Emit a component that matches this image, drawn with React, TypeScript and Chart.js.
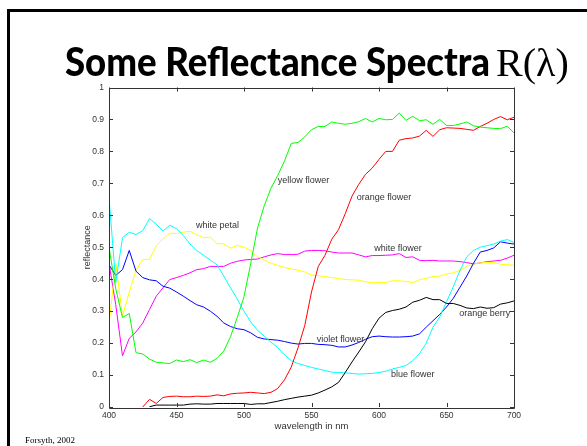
import React, { useEffect, useRef } from "react";
import { Chart, registerables } from "chart.js";

Chart.register(...registerables);

const wavelengths = [
  400, 405, 410, 415, 420, 425, 430, 435, 440, 445, 450, 455, 460, 465, 470, 475, 480, 485, 490, 495,
  500, 505, 510, 515, 520, 525, 530, 535, 540, 545, 550, 555, 560, 565, 570, 575, 580, 585, 590, 595,
  600, 605, 610, 615, 620, 625, 630, 635, 640, 645, 650, 655, 660, 665, 670, 675, 680, 685, 690, 695, 700,
];

const yellowFlower = [
  0.5, 0.37, 0.28, 0.293, 0.17, 0.166, 0.15, 0.14, 0.138, 0.136, 0.147, 0.142, 0.148, 0.139, 0.147, 0.14, 0.152, 0.175, 0.22, 0.28,
  0.345, 0.45, 0.56, 0.63, 0.685, 0.725, 0.77, 0.825, 0.828, 0.845, 0.868, 0.878, 0.878, 0.892, 0.888, 0.885, 0.888, 0.893, 0.903, 0.892,
  0.903, 0.899, 0.9, 0.92, 0.897, 0.91, 0.896, 0.899, 0.885, 0.9, 0.881, 0.881, 0.886, 0.892, 0.88, 0.876, 0.874, 0.872, 0.871, 0.879, 0.858,
];

const orangeFlower = [
  null, null, null, null, null, 0.0, 0.024, 0.011, 0.03, 0.033, 0.034, 0.032, 0.032, 0.034, 0.033, 0.034, 0.038, 0.035, 0.041, 0.043,
  0.044, 0.046, 0.044, 0.042, 0.046, 0.058, 0.085, 0.125, 0.185, 0.255, 0.36, 0.44, 0.475, 0.525, 0.555, 0.605, 0.66, 0.697, 0.728, 0.748,
  0.775, 0.8, 0.8, 0.835, 0.84, 0.842, 0.848, 0.866, 0.847, 0.868, 0.874, 0.873, 0.872, 0.869, 0.866, 0.878, 0.888, 0.9, 0.909, 0.899, 0.907,
];

const orangeBerry = [
  null, null, null, null, null, null, 0.001, 0.006, 0.006, 0.006, 0.006, 0.006, 0.009, 0.01, 0.009, 0.009, 0.011, 0.011, 0.011, 0.011,
  0.011, 0.008, 0.01, 0.01, 0.014, 0.018, 0.023, 0.027, 0.031, 0.034, 0.037, 0.044, 0.053, 0.063, 0.077, 0.108, 0.141, 0.172, 0.204, 0.245,
  0.278, 0.296, 0.302, 0.306, 0.313, 0.328, 0.334, 0.343, 0.336, 0.336, 0.324, 0.324, 0.318, 0.31, 0.308, 0.313, 0.309, 0.311, 0.322, 0.326, 0.332,
];

const blueFlower = [
  0.655, 0.39, 0.53, 0.547, 0.54, 0.552, 0.59, 0.572, 0.551, 0.569, 0.558, 0.537, 0.51, 0.49, 0.475, 0.46, 0.445, 0.41, 0.373, 0.338,
  0.3, 0.266, 0.24, 0.222, 0.203, 0.186, 0.163, 0.145, 0.136, 0.13, 0.124, 0.119, 0.114, 0.109, 0.108, 0.107, 0.105, 0.103, 0.104, 0.105,
  0.108, 0.112, 0.119, 0.124, 0.13, 0.145, 0.167, 0.2, 0.25, 0.282, 0.329, 0.376, 0.428, 0.47, 0.49, 0.5, 0.505, 0.51, 0.519, 0.524, 0.515,
];

const violetFlower = [
  0.445, 0.412, 0.43, 0.49, 0.425, 0.405, 0.398, 0.395, 0.378, 0.372, 0.36, 0.347, 0.333, 0.32, 0.313, 0.3, 0.284, 0.263, 0.252, 0.245,
  0.242, 0.232, 0.218, 0.213, 0.211, 0.209, 0.205, 0.2, 0.197, 0.199, 0.199, 0.196, 0.195, 0.193, 0.188, 0.188, 0.194, 0.202, 0.212, 0.22,
  0.222, 0.22, 0.219, 0.219, 0.22, 0.222, 0.229, 0.25, 0.27, 0.29, 0.313, 0.34, 0.375, 0.41, 0.45, 0.485, 0.49, 0.498, 0.517, 0.513, 0.51,
];

const whitePetal = [
  0.26, 0.45, 0.285, 0.36, 0.428, 0.462, 0.462, 0.505, 0.526, 0.544, 0.543, 0.547, 0.55, 0.539, 0.53, 0.532, 0.511, 0.511, 0.497, 0.506,
  0.5, 0.49, 0.47, 0.46, 0.45, 0.443, 0.437, 0.432, 0.428, 0.423, 0.413, 0.411, 0.408, 0.405, 0.402, 0.399, 0.398, 0.397, 0.392, 0.389,
  0.389, 0.39, 0.395, 0.395, 0.393, 0.389, 0.398, 0.403, 0.408, 0.41, 0.416, 0.42, 0.428, 0.44, 0.447, 0.451, 0.453, 0.452, 0.447, 0.445, 0.444,
];

const whiteFlower = [
  0.45, 0.32, 0.16, 0.215, 0.235, 0.263, 0.305, 0.347, 0.373, 0.399, 0.405, 0.412, 0.42, 0.43, 0.433, 0.44, 0.44, 0.44, 0.45, 0.456,
  0.46, 0.462, 0.463, 0.47, 0.476, 0.48, 0.477, 0.477, 0.478, 0.488, 0.49, 0.49, 0.489, 0.485, 0.482, 0.482, 0.482, 0.476, 0.47, 0.474,
  0.474, 0.475, 0.476, 0.48, 0.468, 0.47, 0.459, 0.458, 0.459, 0.457, 0.457, 0.457, 0.455, 0.452, 0.448, 0.451, 0.455, 0.457, 0.459, 0.466, 0.475,
];

const seriesNames = ["yellow flower", "orange flower", "orange berry", "blue flower", "violet flower", "white petal", "white flower"];
const seriesValues = [yellowFlower, orangeFlower, orangeBerry, blueFlower, violetFlower, whitePetal, whiteFlower];
const seriesColors = ["#00ff00", "#ff0000", "#000000", "#00ffff", "#0000ff", "#ffff00", "#ff00ff"];

const annotLabels = ["yellow flower", "orange flower", "white flower", "white petal", "violet flower", "blue flower", "orange berry"];
const annotWl = [525, 583.5, 596.5, 464.4, 553.8, 608.9, 659.5];
const annotR = [0.709, 0.657, 0.496, 0.567, 0.2125, 0.102, 0.293];

const xTicks = [400, 450, 500, 550, 600, 650, 700];
const yTicks = [0, 0.1, 0.2, 0.3, 0.4, 0.5, 0.6, 0.7, 0.8, 0.9, 1];
const yTickLabels = ["0", "0.1", "0.2", "0.3", "0.4", "0.5", "0.6", "0.7", "0.8", "0.9", "1"];

const slidePlugin = {
  id: "slide",
  beforeDraw(chart: any) {
    const ctx = chart.ctx;
    ctx.save();
    ctx.fillStyle = "#000";
    ctx.fillRect(7, 9, 600, 3);
    ctx.fillRect(7, 9, 3, 460);
    ctx.restore();
  },
  afterDatasetsDraw(chart: any) {
    const ctx = chart.ctx;
    const { left, right, top, bottom } = chart.chartArea;
    const xs = chart.scales.x;
    const ys = chart.scales.y;
    ctx.save();
    ctx.strokeStyle = "#333";
    ctx.lineWidth = 1;
    ctx.beginPath();
    ctx.rect(Math.round(left) + 0.5, Math.round(top) + 0.5, Math.round(right - left), Math.round(bottom - top));
    ctx.stroke();
    ctx.beginPath();
    xs.ticks.forEach((t: any) => {
      const px = Math.round(xs.getPixelForValue(t.value)) + 0.5;
      ctx.moveTo(px, bottom);
      ctx.lineTo(px, bottom - 4);
      ctx.moveTo(px, top);
      ctx.lineTo(px, top + 4);
    });
    ys.ticks.forEach((t: any) => {
      const py = Math.round(ys.getPixelForValue(t.value)) + 0.5;
      ctx.moveTo(left, py);
      ctx.lineTo(left + 4, py);
      ctx.moveTo(right, py);
      ctx.lineTo(right - 4, py);
    });
    ctx.stroke();

    ctx.fillStyle = "#333";
    ctx.font = '9px "Liberation Sans", Arial, sans-serif';
    ctx.textAlign = "left";
    ctx.textBaseline = "middle";
    annotLabels.forEach((lab, i) => {
      ctx.fillText(lab, xs.getPixelForValue(annotWl[i]), ys.getPixelForValue(annotR[i]));
    });
    ctx.restore();
  },
  afterDraw(chart: any) {
    const ctx = chart.ctx;
    ctx.save();
    ctx.fillStyle = "#000";
    ctx.textBaseline = "alphabetic";
    ctx.textAlign = "left";
    const main = "Some Reflectance Spectra";
    ctx.font = '900 40px Lato, "DejaVu Sans", sans-serif';
    const w = ctx.measureText(main).width;
    const sx = 425 / w;
    ctx.translate(65, 76);
    ctx.scale(sx, 1);
    ctx.fillText(main, 0, 0);
    ctx.restore();

    ctx.save();
    ctx.fillStyle = "#000";
    ctx.textBaseline = "alphabetic";
    ctx.textAlign = "left";
    ctx.font = '40px "Liberation Serif", "Times New Roman", serif';
    ctx.fillText("R(\u03bb)", 496, 76);
    ctx.font = '9px "Liberation Serif", "Times New Roman", serif';
    ctx.fillText("Forsyth, 2002", 25, 443);
    ctx.restore();
  },
};

export default function App() {
  const canvasRef = useRef<HTMLCanvasElement | null>(null);

  useEffect(() => {
    const canvas = canvasRef.current;
    if (!canvas) return;
    const datasets = seriesValues.map((vals, i) => ({
      label: seriesNames[i],
      data: wavelengths.map((wl, j) => ({ x: wl, y: vals[j] })),
      borderColor: seriesColors[i],
      backgroundColor: seriesColors[i],
      borderWidth: 1,
      pointRadius: 0,
      tension: 0,
      fill: false,
    }));
    const chart = new Chart(canvas, {
      type: "line",
      data: { datasets },
      plugins: [slidePlugin],
      options: {
        animation: false,
        responsive: false,
        devicePixelRatio: 1,
        layout: { padding: { left: 0, right: 73, top: 87.5, bottom: 0 } },
        plugins: {
          legend: { display: false },
          tooltip: { enabled: false },
          title: { display: false },
        },
        scales: {
          x: {
            type: "linear",
            min: 400,
            max: 700,
            afterBuildTicks: (scale: any) => {
              scale.ticks = xTicks.map((v) => ({ value: v }));
            },
            ticks: {
              padding: 4,
              color: "#333",
              font: { family: '"Liberation Sans", Arial, sans-serif', size: 8.5 },
              maxRotation: 0,
              callback: (v: any) => String(v),
            },
            grid: { display: false, drawTicks: false },
            border: { display: false },
            title: {
              display: true,
              text: "wavelength in nm",
              color: "#333",
              font: { family: '"Liberation Sans", Arial, sans-serif', size: 9.5 },
              padding: { top: 0, bottom: 13.8 },
            },
            afterFit: (scale: any) => {
              scale.height = 39;
            },
          },
          y: {
            type: "linear",
            min: 0,
            max: 1,
            afterBuildTicks: (scale: any) => {
              scale.ticks = yTicks.map((v) => ({ value: v }));
            },
            ticks: {
              padding: 5,
              color: "#333",
              font: { family: '"Liberation Sans", Arial, sans-serif', size: 8.5 },
              callback: (_v: any, i: number) => yTickLabels[i],
            },
            grid: { display: false, drawTicks: false },
            border: { display: false },
            title: {
              display: true,
              text: "reflectance",
              color: "#333",
              font: { family: '"Liberation Sans", Arial, sans-serif', size: 9 },
              padding: { top: 82.6, bottom: 0 },
            },
            afterFit: (scale: any) => {
              scale.width = 109;
            },
          },
        },
      },
    });
    return () => chart.destroy();
  }, []);

  return (
    <div style={{ position: "fixed", left: 0, top: 0, width: 587, height: 446, background: "#fff" }}>
      <canvas ref={canvasRef} width={587} height={446} style={{ display: "block" }} />
    </div>
  );
}
